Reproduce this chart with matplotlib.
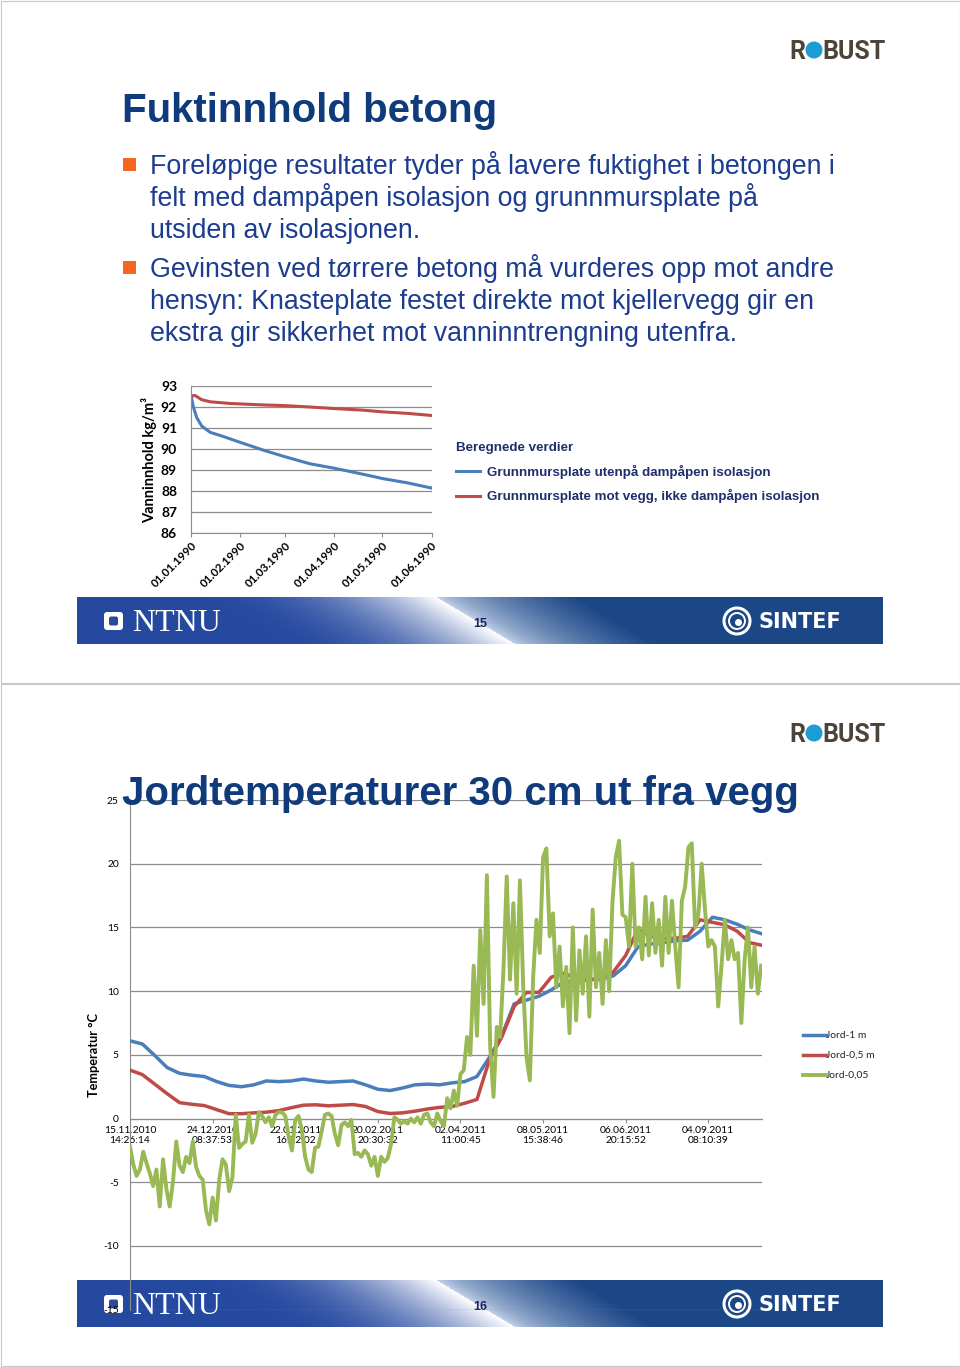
import numpy as np
import matplotlib
matplotlib.use('Agg')
from matplotlib import pyplot as plt
from matplotlib.patches import Rectangle, Circle, FancyBboxPatch
import matplotlib.dates as mdates

# slide 15 - vanninnhold i betong, days counted from 01.01.1990
moist_blue_days = [0, 1.5, 3.6, 6.7, 12, 20.3, 29.8, 45.5, 58.5, 74.9, 89.5, 108.4, 120.4, 135.7, 151]
moist_blue = [92.55, 92.0, 91.5, 91.1, 90.8, 90.6, 90.35, 89.95, 89.65, 89.3, 89.1, 88.8, 88.6, 88.4, 88.15]
moist_red_days = [0, 2.5, 6.7, 12, 24.5, 45.5, 58.5, 74.9, 89.5, 108.4, 120.4, 135.7, 151]
moist_red = [92.52, 92.55, 92.35, 92.25, 92.17, 92.1, 92.07, 92.0, 91.93, 91.85, 91.77, 91.7, 91.6]
moist_ticks = ['1990-01-01', '1990-02-01', '1990-03-01', '1990-04-01', '1990-05-01', '1990-06-01']
moist_tick_labels = ['01.01.1990', '01.02.1990', '01.03.1990', '01.04.1990', '01.05.1990', '01.06.1990']
moist_labels = ['Grunnmursplate utenpå dampåpen isolasjon',
                'Grunnmursplate mot vegg, ikke dampåpen isolasjon']

bullet1 = ['Foreløpige resultater tyder på lavere fuktighet i betongen i',
           'felt med dampåpen isolasjon og grunnmursplate på',
           'utsiden av isolasjonen.']
bullet2 = ['Gevinsten ved tørrere betong må vurderes opp mot andre',
           'hensyn: Knasteplate festet direkte mot kjellervegg gir en',
           'ekstra gir sikkerhet mot vanninntrengning utenfra.']

# slide 16 - jordtemperaturer, logged samples (every 150th / 40th sample)
temp_tick_labels = ['15.11.2010\n14:26:14', '24.12.2010\n08:37:53', '22.01.2011\n16:22:02',
                    '20.02.2011\n20:30:32', '02.04.2011\n11:00:45', '08.05.2011\n15:38:46',
                    '06.06.2011\n20:15:52', '04.09.2011\n08:10:39']
jord_1m = [6.1, 5.85, 4.95, 4.0, 3.55, 3.4, 3.3, 2.9, 2.6, 2.5,
           2.65, 2.95, 2.9, 2.95, 3.1, 2.95, 2.85, 2.9, 2.95, 2.65,
           2.3, 2.2, 2.4, 2.65, 2.7, 2.65, 2.8, 2.9, 3.3, 4.8,
           6.5, 9.0, 9.3, 9.6, 10.1, 10.7, 10.8, 10.9, 10.95, 11.2,
           12.0, 13.5, 13.7, 13.8, 13.95, 14.0, 14.7, 15.8, 15.6, 15.25,
           14.8, 14.5]
jord_05m = [3.8, 3.45, 2.7, 1.95, 1.25, 1.12, 1.02, 0.7, 0.38, 0.38,
            0.45, 0.5, 0.62, 0.85, 1.05, 1.08, 1.0, 1.05, 1.1, 0.95,
            0.55, 0.4, 0.45, 0.58, 0.75, 0.88, 0.95, 1.2, 1.5, 4.6,
            6.4, 8.8, 9.9, 9.9, 11.1, 11.4, 11.0, 10.9, 11.0, 11.5,
            12.8, 14.9, 14.3, 14.15, 14.15, 14.3, 15.6, 15.4, 15.2, 14.7,
            13.8, 13.6]
jord_005 = [-2.2, -3.6, -4.5, -4.0, -2.6, -3.5, -4.3, -5.3, -4.0, -6.9,
            -3.2, -5.5, -6.9, -5.0, -1.8, -3.7, -4.2, -3.0, -3.5, -1.8,
            -3.8, -4.5, -4.8, -7.2, -8.3, -6.2, -8.0, -4.8, -3.2, -3.6,
            -5.7, -4.6, 0.3, -2.3, -2.0, -1.8, 0.3, -1.9, -1.2, 0.5,
            0.2, -0.3, 0.1, -0.6, 0.3, 0.5, 0.5, 0.2, -1.4, -2.5,
            -0.1, 0.2, -0.9, -3.0, -4.0, -4.2, -2.3, -2.2, -1.0, 0.3,
            0.4, 0.2, -1.2, -2.1, -0.5, -0.3, -0.6, -0.1, -2.8, -2.7,
            -3.0, -2.5, -2.8, -3.7, -3.0, -4.5, -3.0, -3.4, -3.1, -2.0,
            0.1, -0.1, -0.4, -0.2, -0.4, 0.0, -0.3, 0.1, -0.4, 0.3,
            0.4, -0.3, -0.6, 0.4, -0.2, -0.6, 1.6, 0.8, 2.2, 1.0,
            3.5, 3.8, 6.4, 5.0, 12.0, 6.5, 14.8, 9.0, 19.1, 5.6,
            1.7, 7.2, 6.4, 11.6, 19.0, 10.9, 16.9, 9.8, 18.7, 10.3,
            4.8, 3.0, 11.1, 15.6, 13.0, 20.5, 21.2, 14.3, 16.1, 10.3,
            13.5, 8.8, 11.9, 6.7, 15.0, 7.7, 13.2, 9.8, 14.3, 8.0,
            16.4, 10.3, 13.0, 9.0, 14.0, 10.0, 17.0, 20.5, 21.8, 16.0,
            15.8, 13.5, 20.0, 13.5, 15.0, 12.5, 17.4, 12.8, 16.9, 13.0,
            15.6, 12.0, 17.4, 13.0, 17.1, 13.5, 10.3, 17.1, 18.2, 21.3,
            21.6, 15.0, 16.0, 20.0, 16.4, 13.5, 14.0, 13.5, 8.8, 12.0,
            15.6, 12.5, 14.0, 12.5, 13.0, 7.5, 12.5, 15.0, 10.3, 13.5,
            9.8, 12.0]
jord_labels = ['Jord-1 m', 'Jord-0,5 m', 'Jord-0,05']

W, H = 960, 1367
TITLE_COL = '#0f3a7c'
BODY_COL = '#1c3d8f'
ORANGE = '#f6661f'
BLUE, RED, GREEN = '#4a7ebb', '#be4b48', '#98b954'
GRID = '#8c8c8c'

plt.rcParams['font.family'] = ['Lato', 'DejaVu Sans']
plt.rcParams['axes.unicode_minus'] = False

fig = plt.figure(figsize=(W / 100, H / 100), dpi=100)


def px_axes(x0, y0, x1, y1, **kw):
    return fig.add_axes([x0 / W, 1 - y1 / H, (x1 - x0) / W, (y1 - y0) / H], **kw)


bg = px_axes(0, 0, W, H, zorder=0)
ov = px_axes(0, 0, W, H, zorder=5)
ov.set_facecolor('none')


def banner(y0, page):
    xs = np.arange(77, 883) + 0.5
    ys = np.arange(y0, y0 + 47) + 0.5
    X, Y = np.meshgrid(xs, ys)
    d = X - (436 + 79 * (Y - y0) / 47)
    dark_l = np.array([0.15, 0.29, 0.63])
    dark_r = np.array([0.11, 0.28, 0.53])
    light_r = np.array([0.80, 0.85, 0.93])
    t = np.clip((d + 240) / 240, 0, 1)[..., None] ** 2.2
    left = dark_l * (1 - t) + t
    s = np.clip(d / 140, 0, 1)[..., None] ** 0.6
    right = light_r * (1 - s) + dark_r * s
    img = np.where((d < 0)[..., None], left, right)
    bg.imshow(img, extent=(77, 883, y0 + 47, y0), aspect='auto', interpolation='bilinear', zorder=1)
    bg.add_patch(FancyBboxPatch((104, y0 + 15), 19, 18, boxstyle='round,pad=0,rounding_size=3',
                                fc='white', ec='none', zorder=2))
    bg.add_patch(FancyBboxPatch((109, y0 + 19.5), 9, 9, boxstyle='round,pad=0,rounding_size=2',
                                fc='#2a4a9a', ec='none', zorder=3))
    bg.text(132, y0 + 34, 'NTNU', family='Liberation Serif', fontsize=23, color='white',
            va='baseline', zorder=3)
    bg.text(480, y0 + 27, str(page), family='Liberation Sans', fontsize=9, fontweight='bold',
            color='#13245a', ha='center', va='center', zorder=3)
    bg.add_patch(Circle((737, y0 + 24), 13, fc='none', ec='white', lw=2.2, zorder=3))
    bg.add_patch(Circle((737, y0 + 24), 8, fc='none', ec='white', lw=1.4, zorder=3))
    bg.add_patch(Circle((738.5, y0 + 25.5), 3.5, fc='white', ec='none', zorder=3))
    bg.text(759, y0 + 31, 'SINTEF', family='DejaVu Sans', fontweight='bold', fontsize=15,
            color='white', va='baseline', zorder=3)


def robust(yb):
    bg.text(789, yb, 'R', family='Roboto', fontweight='bold', fontsize=18, color='#4d4439', va='baseline')
    bg.add_patch(Circle((814, yb - 9), 8.5, fc='#1d9bd7', ec='none'))
    bg.text(822, yb, 'BUST', family='Roboto', fontweight='bold', fontsize=18, color='#4d4439', va='baseline')


# slide frames
bg.add_patch(Rectangle((0.5, 0.5), W - 1, 682.5, fc='none', ec='#c8c8c8', lw=0.8))
bg.add_patch(Rectangle((0.5, 683.5), W - 1, H - 684.5, fc='none', ec='#c8c8c8', lw=0.8))

banner(597, 15)
banner(1280, 16)
robust(59)
robust(742)

# slide 15 texts
bg.text(122, 122, 'Fuktinnhold betong', family='Liberation Sans', fontweight='bold',
        fontsize=29, color=TITLE_COL, va='baseline')
for block, y_start in [(bullet1, 174), (bullet2, 277)]:
    bg.add_patch(Rectangle((123, y_start - 16), 13, 13, fc=ORANGE, ec='none'))
    for i, line in enumerate(block):
        bg.text(150, y_start + 32 * i, line, family='Liberation Sans', fontsize=19.3,
                color=BODY_COL, va='baseline')

bg.set_xlim(0, W)
bg.set_ylim(H, 0)
bg.axis('off')
ov.set_xlim(0, W)
ov.set_ylim(H, 0)
ov.axis('off')

# slide 16 title drawn above chart
ov.text(122, 805, 'Jordtemperaturer 30 cm ut fra vegg', family='Liberation Sans', fontweight='bold',
        fontsize=29, color=TITLE_COL, va='baseline')

# ---- chart slide 15 ----
ax1 = px_axes(191, 386, 431.5, 533.3, zorder=1)
ax1.set_facecolor('none')
t0 = mdates.date2num(np.datetime64('1990-01-01'))
ax1.plot(t0 + np.array(moist_blue_days), moist_blue, color=BLUE, lw=2.2, label=moist_labels[0])
ax1.plot(t0 + np.array(moist_red_days), moist_red, color=RED, lw=2.2, label=moist_labels[1])
ax1.set_xlim(t0, t0 + 151)
ax1.set_ylim(86, 93)
ax1.set_yticks(range(86, 94), [str(v) for v in range(86, 94)], fontweight='bold')
ax1.set_xticks(mdates.date2num(np.array(moist_ticks, dtype='datetime64[D]')), moist_tick_labels,
               rotation=45, ha='right', va='top', rotation_mode='anchor', fontweight='bold')
ax1.grid(axis='y', color=GRID, lw=0.9)
ax1.set_axisbelow(True)
for s in ['top', 'right']:
    ax1.spines[s].set_visible(False)
for s in ['left', 'bottom']:
    ax1.spines[s].set_color(GRID)
ax1.tick_params(axis='y', length=0, pad=10, labelsize=10)
ax1.tick_params(axis='x', length=3, color=GRID, pad=2, labelsize=8.3)
ax1.set_ylabel('Vanninnhold kg/m³', fontweight='bold', fontsize=10.5)
ax1.yaxis.set_label_coords(-0.14, 0.5)
leg1 = ax1.legend(loc='upper left', bbox_to_anchor=(456 / W, 1 - 442 / H), bbox_transform=fig.transFigure,
                  frameon=False, title='Beregnede verdier', alignment='left',
                  prop=dict(family='Liberation Sans', weight='bold', size=9.6),
                  title_fontproperties=dict(family='Liberation Sans', weight='bold', size=9.6),
                  labelcolor='#1f2f6b', handlelength=1.8, handletextpad=0.5, labelspacing=0.8,
                  borderpad=0, borderaxespad=0)
leg1.get_title().set_color('#1f2f6b')

# ---- chart slide 16 ----
ax2 = px_axes(130, 800, 762, 1309.7, zorder=1)
ax2.set_facecolor('none')
xb = np.arange(len(jord_1m)) * 150
xg = np.arange(len(jord_005)) * 40
ax2.plot(xb, jord_1m, color=BLUE, lw=2.5, label=jord_labels[0], zorder=3)
ax2.plot(xb, jord_05m, color=RED, lw=2.5, label=jord_labels[1], zorder=3)
ax2.plot(xg, jord_005, color=GREEN, lw=2.8, label=jord_labels[2], zorder=4)
ax2.set_xlim(0, 7650)
ax2.set_ylim(-15, 25)
ax2.set_yticks(range(-15, 30, 5))
ax2.set_xticks(np.arange(len(temp_tick_labels)) * 1000, temp_tick_labels, linespacing=1.3)
ax2.grid(axis='y', color=GRID, lw=0.9)
ax2.set_axisbelow(True)
for s in ['top', 'right']:
    ax2.spines[s].set_visible(False)
for s in ['left', 'bottom']:
    ax2.spines[s].set_color(GRID)
ax2.spines['bottom'].set_position(('data', 0))
ax2.tick_params(axis='y', length=0, pad=8, labelsize=7.4)
ax2.tick_params(axis='x', length=3, color=GRID, pad=2, labelsize=7.4)
ax2.set_ylabel('Temperatur °C', fontweight='bold', fontsize=9.2)
ax2.yaxis.set_label_coords(-0.047, 0.5)
ax2.legend(loc='upper left', bbox_to_anchor=(803 / W, 1 - 1031 / H), bbox_transform=fig.transFigure,
           frameon=False, fontsize=7.4, handlelength=2.2, handletextpad=0.05, labelspacing=1.05,
           borderpad=0, borderaxespad=0, labelcolor='#222222')

fig.savefig('out.png', dpi=100)
